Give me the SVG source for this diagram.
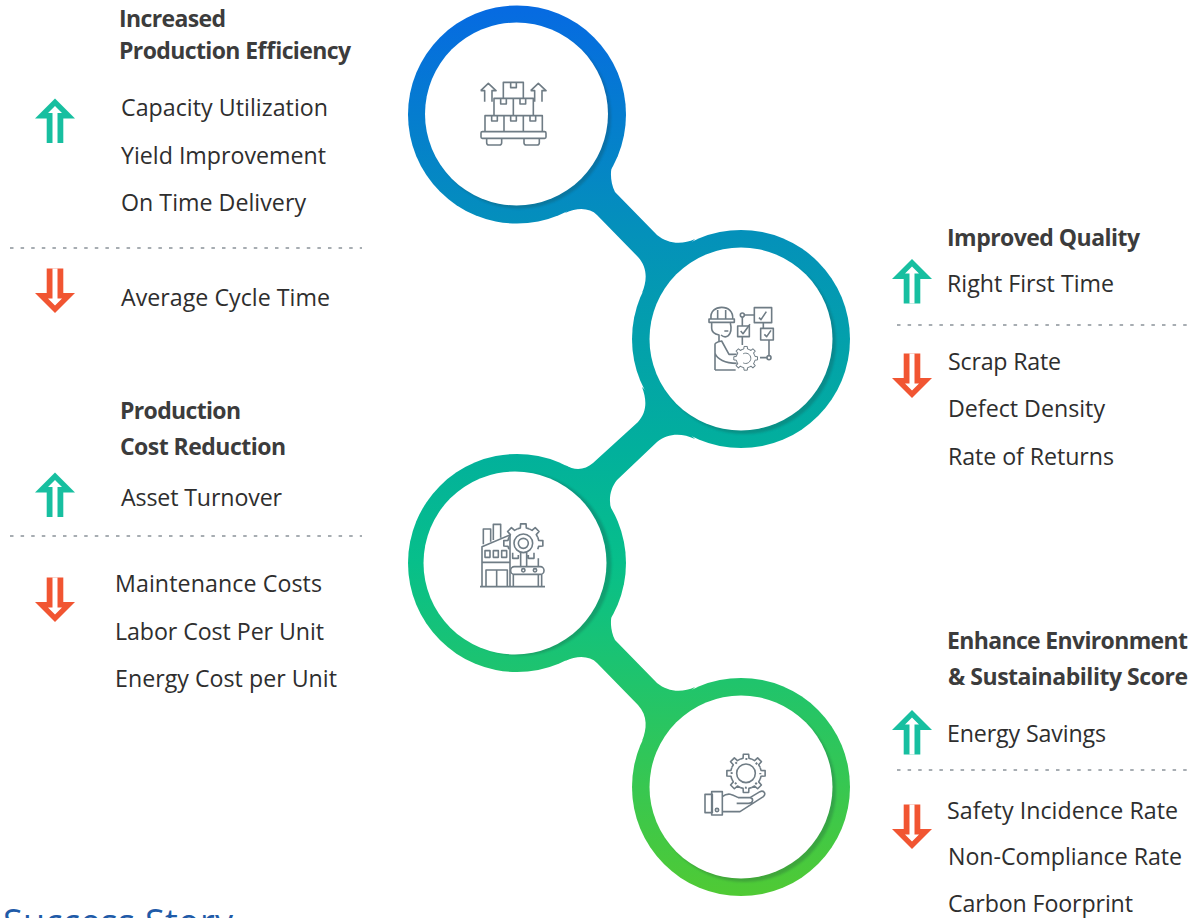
<svg xmlns="http://www.w3.org/2000/svg" width="1192" height="918" viewBox="0 0 1192 918">
<style>
text{font-family:"Open Sans","Noto Sans","Liberation Sans",sans-serif;font-size:23.2px;fill:#2e2e2e}
.h{font-weight:700;font-size:23px;fill:#3c3c3c}
.ic{fill:none;stroke:#6f7c85;stroke-width:4.8;stroke-linejoin:round}
.dash{stroke:#8a9299;stroke-width:1.3;stroke-dasharray:3.5 7.1}
.ring{fill:url(#g)}
.sh{fill:#1a3a3a;opacity:.24;filter:url(#b)}
.hole{fill:#fff}
</style>
<defs>
<linearGradient id="g" gradientUnits="userSpaceOnUse" x1="0" y1="5" x2="0" y2="896">
<stop offset="0" stop-color="#066ae2"/>
<stop offset=".25" stop-color="#0490bb"/>
<stop offset=".5" stop-color="#02b09c"/>
<stop offset=".625" stop-color="#07bf8a"/>
<stop offset=".76" stop-color="#20c46c"/>
<stop offset="1" stop-color="#50ca34"/>
</linearGradient>
<filter id="b" x="-10%" y="-10%" width="120%" height="120%"><feGaussianBlur stdDeviation="1.2"/></filter>
<g id="up"><path d="M0 0L20 20H8.300V44.500H-8.300V20H-20Z"/><path fill="#fff" d="M0 7.500L7 14.500H2.500V44.500H-2.500V14.500H-7Z"/></g>
<path id="t" d="M-17.600 -42.500L-8.800 -45.100L-8 -57.400H8L8.800 -45.100L17.600 -42.500"/>
<g id="halfgear"><use href="#t" transform="rotate(270)"/><use href="#t" transform="rotate(315)"/><use href="#t"/><use href="#t" transform="rotate(45)"/><use href="#t" transform="rotate(90)"/></g>
<g id="gear"><use href="#halfgear"/><use href="#t" transform="rotate(135)"/><use href="#t" transform="rotate(180)"/><use href="#t" transform="rotate(225)"/></g>
</defs>
<rect width="1192" height="918" fill="#fff"/>
<g id="connectors" class="ring">
<path d="M613 163C610 170 610 182 615 192L657 235C668 244 682 245 695 239L642 293C647 281 648 268 638 257L597 215C590 208 578 207 565 213Z"/>
<path d="M642 387C647 400 647 412 638 422L593 463C585 470 575 471 565 465L613 515C608 503 609 490 617 480L657 442C668 433 682 433 695 439Z"/>
<path d="M613 611C610 618 610 630 615 640L657 683C668 692 682 693 695 687L642 741C647 729 648 716 638 705L597 663C590 656 578 655 565 661Z"/>
</g>
<g id="node1">
<circle class="ring" cx="517" cy="114.500" r="109"/><circle class="sh" cx="519.500" cy="117" r="91.500"/><circle class="hole" cx="516.500" cy="114" r="91.500"/>
<g class="ic" transform="translate(470 70) scale(.3333)">
<rect x="33" y="185" width="195" height="20" rx="4"/><path d="M50 205V218Q50 225 57 225H88Q95 225 95 218V205M162 205V218Q162 225 169 225H201Q208 225 208 218V205"/>
<path d="M45 185V137H217V185M102 137V185M160 137V185M72 137V85H190V137M130 85V137M100 85V37H160V85"/>
<path d="M65 137V153H82V137M122 137V153H139V137M180 137V153H197V137M92 85V102H109V85M150 85V102H167V85M122 37V53H139V37"/>
<path d="M32 62L55 40L78 62H66V95M44 95V62H32M182 62L205 40L228 62H216V95M194 95V62H182"/>
</g></g>
<g id="node2">
<circle class="ring" cx="741" cy="339" r="109"/><circle class="sh" cx="744.500" cy="342.500" r="91.500"/><circle class="hole" cx="741" cy="339" r="91.500"/>
<g class="ic" transform="translate(695 295) scale(.3333)">
<path d="M48 72C45 48 62 37 80 37C100 37 115 50 113 72M42 72H118V82H42ZM68 45V72M92 45V72"/>
<path d="M50 82V100C50 112 62 118 72 120V140M106 84C110 100 110 112 100 122C92 128 85 126 78 120M88 108H100"/>
<path d="M60 225V148C60 142 72 140 80 138L102 178H125M60 225H122M60 175C66 192 90 205 125 205"/>
<g transform="translate(152 190) scale(.62)"><use href="#gear"/><path d="M-12 -22A25 25 0 1 1 -12 22"/></g>
<rect x="178" y="38" width="52" height="45"/><rect x="128" y="93" width="35" height="32"/><rect x="197" y="100" width="38" height="35"/>
<circle cx="142" cy="60" r="6"/><circle cx="222" cy="188" r="6"/>
<path d="M148 60H178M142 66V93M205 83V100M222 135V182M216 188H195M142 125V150M192 68L198 74L214 50M137 108L144 116L165 88M208 118L215 125L228 106"/>
</g></g>
<g id="node3">
<circle class="ring" cx="517" cy="563" r="109"/><circle class="sh" cx="520" cy="564" r="91.500"/><circle class="hole" cx="515" cy="563" r="91.500"/>
<g class="ic" transform="translate(470 515) scale(.3333)">
<path d="M30 215H225M36 215V95L120 60V215M36 142H120M40 88V42H62V80M70 75V28H92V68"/>
<rect x="45" y="107" width="15" height="20"/><rect x="70" y="107" width="15" height="20"/><rect x="95" y="107" width="15" height="20"/>
<path d="M48 215V165H112V215M80 165V215"/>
<g transform="translate(160 85) scale(1.02)"><use href="#halfgear"/></g>
<circle cx="160" cy="85" r="28"/><circle cx="160" cy="85" r="15"/>
<path d="M128 113V130H145V120M175 120V130H192V113M152 113V155M170 113V155M205 130V155"/>
<rect x="122" y="155" width="100" height="23" rx="11"/><circle cx="160" cy="166" r="5"/><circle cx="195" cy="166" r="5"/>
<path d="M130 178V215M205 178V215M215 178V215"/>
</g></g>
<g id="node4">
<circle class="ring" cx="741" cy="787" r="109"/><circle class="sh" cx="744.500" cy="790.500" r="91.500"/><circle class="hole" cx="741" cy="787" r="91.500"/>
<g class="ic" transform="translate(695 745) scale(.3333)">
<g transform="translate(153 85)"><use href="#gear"/></g>
<circle cx="153" cy="85" r="28"/>
<circle cx="153" cy="85" r="43" stroke-width="6" stroke-dasharray="6 27.770" stroke-dashoffset="3"/>
<rect x="30" y="148" width="22" height="55"/><rect x="50" y="140" width="32" height="70"/><circle cx="66" cy="195" r="5"/>
<path d="M82 155C100 140 115 150 130 158H165C176 160 176 175 160 175H125M82 200H135L205 155C215 145 205 135 195 140L165 158"/>
</g></g>
<g id="labels">
<text class="h" x="119" y="27" textLength="107">Increased</text>
<text class="h" x="119" y="59" textLength="232">Production Efficiency</text>
<text x="121" y="116" textLength="207">Capacity Utilization</text>
<text x="121" y="164" textLength="205">Yield Improvement</text>
<text x="121" y="211" textLength="185">On Time Delivery</text>
<text x="121" y="306" textLength="209">Average Cycle Time</text>
<text class="h" x="120" y="419" textLength="121">Production</text>
<text class="h" x="120" y="455" textLength="166">Cost Reduction</text>
<text x="121" y="506" textLength="161">Asset Turnover</text>
<text x="115" y="592" textLength="207">Maintenance Costs</text>
<text x="115" y="640" textLength="209">Labor Cost Per Unit</text>
<text x="115" y="687" textLength="222">Energy Cost per Unit</text>
<text class="h" x="947" y="246" textLength="193">Improved Quality</text>
<text x="947" y="292" textLength="167">Right First Time</text>
<text x="948" y="370" textLength="113">Scrap Rate</text>
<text x="948" y="417" textLength="157">Defect Density</text>
<text x="948" y="465" textLength="166">Rate of Returns</text>
<text class="h" x="947" y="649" textLength="241">Enhance Environment</text>
<text class="h" x="948" y="685" textLength="240">&amp; Sustainability Score</text>
<text x="947" y="742" textLength="159">Energy Savings</text>
<text x="947" y="819" textLength="231">Safety Incidence Rate</text>
<text x="948" y="865" textLength="234">Non-Compliance Rate</text>
<text x="948" y="912" textLength="185">Carbon Foorprint</text>
<text x="3" y="935" style="font-size:36px;fill:#1f5ba8" textLength="230">Success Story</text>
</g>
<g id="dividers">
<path class="dash" d="M10 248H362M10 536H362M897 325H1187M897 770H1187"/>
</g>
<g id="arrows">
<g fill="#17bfa0"><use href="#up" transform="translate(55 98.500)"/><use href="#up" transform="translate(55 472.500)"/><use href="#up" transform="translate(912 259)"/><use href="#up" transform="translate(912 710)"/></g>
<g fill="#f15532"><use href="#up" transform="translate(55 313) scale(1 -1)"/><use href="#up" transform="translate(55 622) scale(1 -1)"/><use href="#up" transform="translate(912 398) scale(1 -1)"/><use href="#up" transform="translate(912 849) scale(1 -1)"/></g>
</g>
</svg>
